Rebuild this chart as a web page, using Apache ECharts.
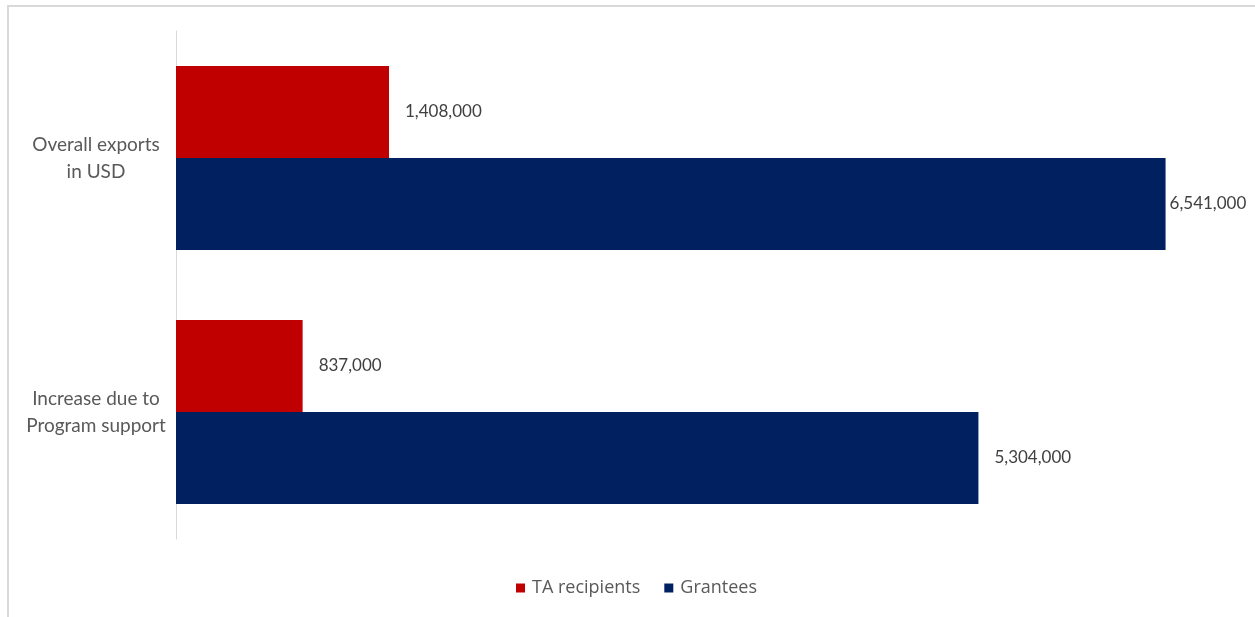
<!DOCTYPE html>
<html>
<head>
<meta charset="utf-8">
<script src="https://cdn.jsdelivr.net/npm/echarts@6/dist/echarts.min.js"></script>
<style>
  html, body { margin: 0; padding: 0; background: #ffffff; }
  #chart { width: 1255px; height: 617px; }
</style>
</head>
<body>
<div id="chart"></div>
<script>
// Export outcomes by support type
const categories = ['Overall exports\nin USD', 'Increase due to\nProgram support'];
const seriesNames = ['TA recipients', 'Grantees'];
const taRecipients = [1408000, 837000];
const grantees = [6541000, 5304000];
const seriesColors = ['#c00000', '#002060'];

const chart = echarts.init(document.getElementById('chart'), null, { renderer: 'canvas' });

const fmt = v => v.toLocaleString('en-US');

const labelStyle = {
  show: true,
  position: 'right',
  distance: 16,
  color: '#404040',
  fontFamily: 'Lato',
  fontSize: 17,
  formatter: p => fmt(p.value)
};

// the longest bar's label is pulled in so it stays inside the chart frame
const granteeData = grantees.map((v, i) =>
  i === 0 ? { value: v, label: { distance: 4 } } : v
);

chart.setOption({
  animation: false,
  backgroundColor: '#ffffff',
  grid: { left: 176, right: 20, top: 31, bottom: 78, containLabel: false },
  legend: {
    bottom: 20,
    left: 516,
    padding: 0,
    itemWidth: 9,
    itemHeight: 9,
    itemGap: 24,
    icon: 'rect',
    textStyle: { color: '#595959', fontFamily: 'Open Sans', fontSize: 18, padding: [0, 0, 0, 2] },
    data: seriesNames
  },
  xAxis: {
    type: 'value',
    min: 0,
    max: 7000000,
    show: false
  },
  yAxis: {
    type: 'category',
    inverse: true,
    data: categories,
    axisLine: { show: true, lineStyle: { color: '#d9d9d9', width: 1 } },
    axisTick: { show: false },
    splitLine: { show: false },
    axisLabel: {
      color: '#595959',
      fontFamily: 'Lato',
      fontSize: 19,
      lineHeight: 27,
      align: 'center',
      margin: 80
    }
  },
  series: [
    {
      name: seriesNames[0],
      type: 'bar',
      data: taRecipients,
      barWidth: 92,
      barGap: '0%',
      itemStyle: { color: seriesColors[0] },
      label: labelStyle
    },
    {
      name: seriesNames[1],
      type: 'bar',
      data: granteeData,
      barWidth: 92,
      barGap: '0%',
      itemStyle: { color: seriesColors[1] },
      label: labelStyle
    }
  ],
  graphic: [
    { type: 'line', shape: { x1: 7, y1: 6, x2: 1255, y2: 6 }, style: { stroke: '#d9d9d9', lineWidth: 2 } },
    { type: 'line', shape: { x1: 8, y1: 5, x2: 8, y2: 617 }, style: { stroke: '#d9d9d9', lineWidth: 2 } }
  ]
});
</script>
</body>
</html>
